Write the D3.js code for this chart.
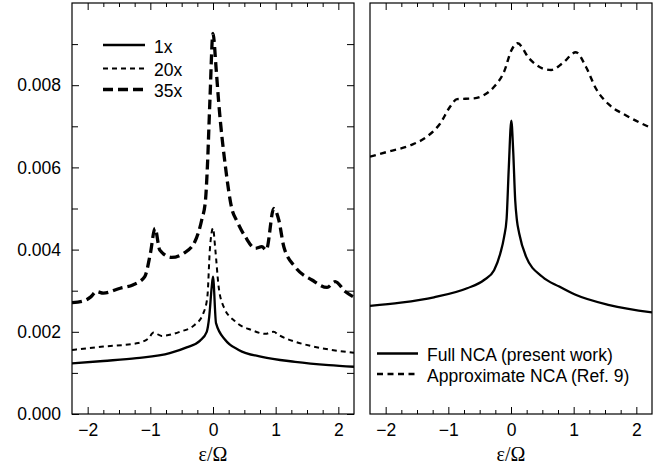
<!DOCTYPE html>
<html>
<head>
<meta charset="utf-8">
<script src="https://cdn.jsdelivr.net/npm/d3@7"></script>
<style>
  body { margin: 0; background: #fff; }
  text { font-family: "Liberation Sans", Arial, sans-serif; fill: #000; }
  .xlab { font-family: "Liberation Serif", "Times New Roman", serif; }
</style>
</head>
<body>
<div id="chart"></div>
<script>
/* Two panel spectral function plot: magnification comparison and NCA comparison. */

// left panel, 1x
const e1 = [-2.25, -1.75, -1.22, -0.69, -0.42, -0.21, -0.1, -0.06, -0.02, 0.0, 0.048, 0.197, 0.41, 0.78, 1.31, 1.85, 2.25];
const v1 = [0.00123, 0.00129, 0.00136, 0.00148, 0.00162, 0.00178, 0.002, 0.00237, 0.0031, 0.00334, 0.00221, 0.0018, 0.00156, 0.00139, 0.00127, 0.00119, 0.00115];

// left panel, 20x
const e20 = [-2.25, -1.75, -1.22, -1.03, -0.95, -0.82, -0.53, -0.29, -0.155, -0.09, -0.05, 0.0, 0.037, 0.09, 0.17, 0.356, 0.62, 0.835, 0.968, 1.05, 1.31, 1.58, 1.85, 2.25];
const v20 = [0.00156, 0.00164, 0.00172, 0.00184, 0.00198, 0.0019, 0.002, 0.00217, 0.00245, 0.00285, 0.004, 0.00452, 0.004, 0.0031, 0.00261, 0.00225, 0.00204, 0.00195, 0.002, 0.00192, 0.00176, 0.00165, 0.00157, 0.00149];

// left panel, 35x
const e35 = [-2.25, -2.05, -1.95, -1.86, -1.75, -1.48, -1.28, -1.09, -1.0, -0.925, -0.85, -0.66, -0.47, -0.29, -0.18, -0.12, -0.09, -0.05, 0.0, 0.05, 0.09, 0.2, 0.3, 0.38, 0.52, 0.675, 0.78, 0.85, 0.97, 1.05, 1.13, 1.31, 1.58, 1.82, 1.95, 2.11, 2.25];
const v35 = [0.00271, 0.00276, 0.00285, 0.00298, 0.00294, 0.00306, 0.00314, 0.00334, 0.0039, 0.00452, 0.00399, 0.00381, 0.00391, 0.00419, 0.00472, 0.0052, 0.006, 0.0076, 0.00926, 0.0084, 0.0076, 0.006, 0.005, 0.0047, 0.0043, 0.00403, 0.00407, 0.00399, 0.005, 0.00472, 0.00407, 0.00358, 0.00326, 0.00308, 0.00322, 0.00298, 0.00284];

// right panel, full NCA
const eFull = [-2.25, -1.76, -1.23, -0.7, -0.43, -0.27, -0.17, -0.11, -0.07, -0.035, 0.005, 0.035, 0.067, 0.094, 0.13, 0.24, 0.5, 0.77, 1.03, 1.57, 2.25];
const vFull = [0.00263, 0.00271, 0.00284, 0.00306, 0.00326, 0.0035, 0.00391, 0.00431, 0.00475, 0.006, 0.00714, 0.0064, 0.0052, 0.00472, 0.0044, 0.00383, 0.00334, 0.0031, 0.0029, 0.00265, 0.00247];

// right panel, approximate NCA
const eApprox = [-2.25, -1.97, -1.6, -1.34, -1.13, -0.97, -0.86, -0.59, -0.43, -0.27, -0.11, 0.01, 0.104, 0.29, 0.5, 0.64, 0.82, 1.035, 1.195, 1.355, 1.57, 1.83, 2.25];
const vApprox = [0.00626, 0.00638, 0.00654, 0.00675, 0.00707, 0.00748, 0.00766, 0.00768, 0.00776, 0.00796, 0.00833, 0.00886, 0.00902, 0.00865, 0.00841, 0.00837, 0.00853, 0.0088, 0.00845, 0.00792, 0.00752, 0.00727, 0.00695];

const xMajor = [-2, -1, 0, 1, 2];
const yMajor = [0, 0.002, 0.004, 0.006, 0.008];
const yMinor = [0.001, 0.003, 0.005, 0.007, 0.009];
const leftNames = ["1x", "20x", "35x"];
const rightNames = ["Full NCA (present work)", "Approximate NCA (Ref. 9)"];
const xLabel = "ε/Ω";

const width = 666, height = 468;
const plotTop = 3, plotBottom = 414;

const svg = d3.select("#chart")
  .append("svg")
  .attr("width", width)
  .attr("height", height);

const zip = (xs, ys) => xs.map((d, i) => ({ e: d, v: ys[i] }));

const xMinor = d3.range(-9, 10).map(i => i * 0.25)
  .filter(d => Math.abs(d) < 2.2 && !Number.isInteger(d));

const styles = {
  solid: { w: 2.3, dash: null },
  short: { w: 2, dash: "5,4" },
  long: { w: 3.3, dash: "10,5" },
  approx: { w: 2.4, dash: "6,4.5" }
};

function panel(left, right, series, showYLabels, id) {
  const x = d3.scaleLinear().domain([-2.25, 2.25]).range([left, right]);
  const y = d3.scaleLinear().domain([0, 0.01]).range([plotBottom, plotTop]);
  const g = svg.append("g");

  g.append("clipPath").attr("id", id)
    .append("rect")
    .attr("x", left).attr("y", plotTop)
    .attr("width", right - left).attr("height", plotBottom - plotTop);

  // bottom ticks with labels
  g.append("g")
    .attr("transform", `translate(0,${plotBottom})`)
    .call(d3.axisBottom(x).tickValues(xMajor).tickSize(-7).tickPadding(10).tickFormat(d3.format("d")))
    .call(a => a.select(".domain").remove())
    .call(a => a.selectAll("text").attr("font-size", 17.5).attr("font-family", null));
  g.append("g")
    .attr("transform", `translate(0,${plotBottom})`)
    .call(d3.axisBottom(x).tickValues(xMinor).tickSize(-4).tickFormat(""))
    .call(a => a.select(".domain").remove());

  // top ticks
  g.append("g")
    .attr("transform", `translate(0,${plotTop})`)
    .call(d3.axisTop(x).tickValues(xMajor).tickSize(-7).tickFormat(""))
    .call(a => a.select(".domain").remove());
  g.append("g")
    .attr("transform", `translate(0,${plotTop})`)
    .call(d3.axisTop(x).tickValues(xMinor).tickSize(-4).tickFormat(""))
    .call(a => a.select(".domain").remove());

  if (showYLabels) {
    g.append("g")
      .attr("transform", `translate(${left},0)`)
      .call(d3.axisLeft(y).tickValues(yMajor).tickSize(-7).tickPadding(11).tickFormat(d3.format(".3f")))
      .call(a => a.select(".domain").remove())
      .call(a => a.selectAll("text").attr("font-size", 17.5).attr("font-family", null));
    g.append("g")
      .attr("transform", `translate(${left},0)`)
      .call(d3.axisLeft(y).tickValues(yMinor).tickSize(-6).tickFormat(""))
      .call(a => a.select(".domain").remove());
    g.append("g")
      .attr("transform", `translate(${right},0)`)
      .call(d3.axisRight(y).tickValues(yMajor.concat(yMinor)).tickSize(-7).tickFormat(""))
      .call(a => a.select(".domain").remove());
  }

  // frame
  g.append("rect")
    .attr("x", left).attr("y", plotTop)
    .attr("width", right - left).attr("height", plotBottom - plotTop)
    .attr("fill", "none")
    .attr("stroke", "#000")
    .attr("stroke-width", 1.2);

  g.append("text")
    .attr("class", "xlab")
    .attr("x", (left + right) / 2)
    .attr("y", 461)
    .attr("text-anchor", "middle")
    .attr("font-size", 20)
    .text(xLabel);

  const line = d3.line()
    .x(d => x(d.e))
    .y(d => y(d.v))
    .curve(d3.curveMonotoneX);

  for (const s of series) {
    g.append("path")
      .datum(s.data)
      .attr("d", line)
      .attr("clip-path", `url(#${id})`)
      .attr("fill", "none")
      .attr("stroke", "#000")
      .attr("stroke-width", styles[s.style].w)
      .attr("stroke-dasharray", styles[s.style].dash)
      .attr("stroke-linejoin", "round");
  }
  return g;
}

panel(72, 354, [
  { data: zip(e1, v1), style: "solid" },
  { data: zip(e20, v20), style: "short" },
  { data: zip(e35, v35), style: "long" }
], true, "clipL");

panel(370, 652, [
  { data: zip(eFull, vFull), style: "solid" },
  { data: zip(eApprox, vApprox), style: "approx" }
], false, "clipR");

// legends
function legend(names, keys, x0, x1, ys) {
  names.forEach((name, i) => {
    svg.append("line")
      .attr("x1", x0).attr("x2", x1)
      .attr("y1", ys[i]).attr("y2", ys[i])
      .attr("stroke", "#000")
      .attr("stroke-width", styles[keys[i]].w)
      .attr("stroke-dasharray", styles[keys[i]].dash);
    svg.append("text")
      .attr("x", x1 + 9)
      .attr("y", ys[i] + 1.5)
      .attr("dy", "0.35em")
      .attr("font-size", 17.5)
      .text(name);
  });
}

legend(leftNames, ["solid", "short", "long"], 103, 145, [45, 68.5, 89.5]);
legend(rightNames, ["solid", "approx"], 377, 418, [353.5, 374]);
</script>
</body>
</html>
